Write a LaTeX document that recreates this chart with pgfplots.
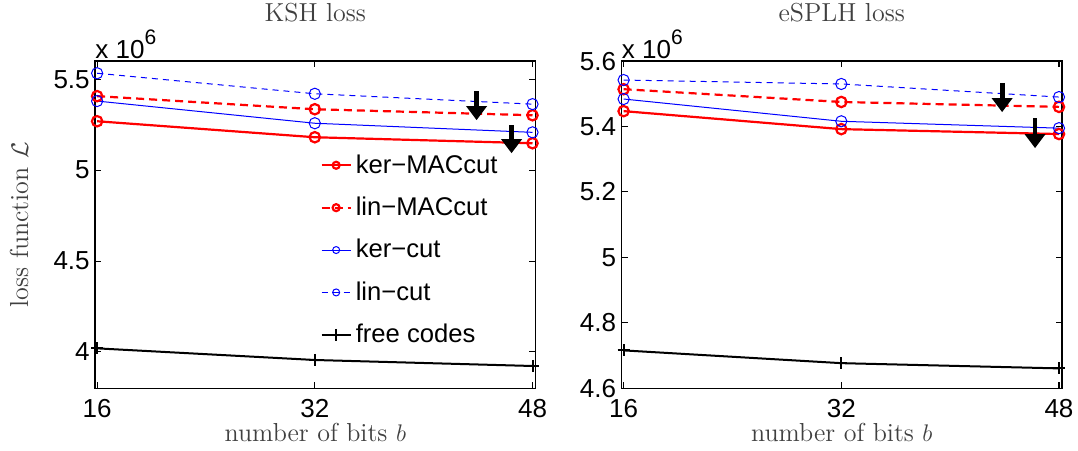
\documentclass[border=0pt]{standalone}
\usepackage{fontspec}
\setsansfont{Liberation Sans}
\usepackage{pgfplots}
\usepackage{pgfplotstable}
\pgfplotsset{compat=1.18}
\usetikzlibrary{arrows.meta}

\newcommand\tickfont{\sffamily\fontsize{13}{15}\selectfont}
\newcommand\labfont{\rmfamily\fontsize{13}{15}\selectfont}

% loss values, in units of 10^6
\pgfplotstableread{
b  kermac linmac kercut lincut free
16 5.269  5.407  5.380  5.533  4.020
32 5.181  5.335  5.258  5.420  3.956
48 5.148  5.302  5.208  5.363  3.923
}\ksh
\pgfplotstableread{
b  kermac linmac kercut lincut free
16 5.447  5.514  5.484  5.542  4.716
32 5.392  5.475  5.416  5.530  4.677
48 5.377  5.460  5.395  5.490  4.661
}\esplh
% annotation arrows (start point, drop)
\pgfplotstableread{
x     y     v
43.89 5.434 -0.159
46.46 5.247 -0.154
}\ksharr
\pgfplotstableread{
x     y     v
43.82 5.533 -0.089
46.24 5.426 -0.092
}\esplharr

\pgfplotsset{
  lossax/.style={
    scale only axis, width=220pt, height=163.5pt,
    xmin=15.85, xmax=48.22, xtick={16,32,48},
    tick align=inside, major tick length=3pt,
    axis line style={line width=0.7pt}, every tick/.style={black, line width=0.5pt},
    clip=false,
    ticklabel style={font=\tickfont},
    /pgf/number format/assume math mode=true,
    yticklabel style={anchor=east, inner sep=0pt, xshift=-2.5pt},
    xticklabel style={anchor=north, inner sep=0pt, yshift=-5.5pt},
    title style={at={(axis description cs:0.5,1)}, anchor=base, yshift=14pt, font=\labfont, text=black!75},
    xlabel style={at={(axis description cs:0.5,0)}, anchor=base, yshift=-26.5pt, font=\labfont, text=black!75},
    ylabel style={at={(axis description cs:-0.152,0.5)}, anchor=base, font=\labfont, text=black!75},
    xlabel={number of bits $b$},
    legend image code/.code={
      \draw[mark repeat=2, mark phase=2, ##1] plot coordinates {(0pt,0pt) (7.25pt,0pt) (14.5pt,0pt)};
    },
  },
  kermac/.style={red, line width=1.1pt, mark=o, mark size=2.6pt, mark options={solid}, legend image post style={mark size=1.75pt}},
  linmac/.style={red, line width=1.1pt, dash pattern=on 4pt off 2.5pt, mark=o, mark size=2.6pt, mark options={solid}, legend image post style={mark size=1.75pt}},
  kercut/.style={blue, line width=0.5pt, mark=o, mark size=2.8pt, mark options={solid}, legend image post style={mark size=1.75pt}},
  lincut/.style={blue, line width=0.5pt, dash pattern=on 3pt off 2.5pt, mark=o, mark size=2.8pt, mark options={solid}, legend image post style={mark size=1.75pt}},
  freec/.style={black, line width=1pt, mark=+, mark size=3pt, mark options={solid}},
  downarr/.style={black, line width=2.4pt, -{Triangle[width=10pt,length=7pt]}, quiver={u=0, v=\thisrow{v}}, forget plot},
}

\begin{document}
\begin{tikzpicture}
\begin{axis}[lossax, name=ksh,
  ymin=3.8, ymax=5.6, ytick={4,4.5,5,5.5},
  title={KSH loss}, ylabel={loss function $\mathcal{L}$},
  legend style={at={(axis description cs:0.511,0.728)}, anchor=north west, draw=none, fill=none,
    inner sep=0pt, row sep=6.4pt, font=\sffamily\fontsize{12.8}{15}\selectfont,
    /tikz/every odd column/.append style={column sep=0pt}},
  legend cell align=left,
]
\addplot[kermac] table[x=b, y=kermac] {\ksh};
\addplot[linmac] table[x=b, y=linmac] {\ksh};
\addplot[kercut] table[x=b, y=kercut] {\ksh};
\addplot[lincut] table[x=b, y=lincut] {\ksh};
\addplot[freec]  table[x=b, y=free] {\ksh};
\addplot[downarr] table[x=x, y=y] {\ksharr};
\legend{ker−MACcut, lin−MACcut, ker−cut, lin−cut, free codes}
\node[anchor=base west, inner sep=0pt, yshift=1.5pt, font=\tickfont] at (rel axis cs:0,1)
  {x 10\raisebox{7pt}{\fontsize{10.5}{12}\selectfont 6}};
\end{axis}

\begin{axis}[lossax, name=esplh, at={(ksh.south east)}, anchor=south west, xshift=43pt,
  ymin=4.6, ymax=5.6, ytick={4.6,4.8,5,5.2,5.4,5.6},
  title={eSPLH loss},
]
\addplot[kermac] table[x=b, y=kermac] {\esplh};
\addplot[linmac] table[x=b, y=linmac] {\esplh};
\addplot[kercut] table[x=b, y=kercut] {\esplh};
\addplot[lincut] table[x=b, y=lincut] {\esplh};
\addplot[freec]  table[x=b, y=free] {\esplh};
\addplot[downarr] table[x=x, y=y] {\esplharr};
\node[anchor=base west, inner sep=0pt, yshift=1.5pt, font=\tickfont] at (rel axis cs:0,1)
  {x 10\raisebox{7pt}{\fontsize{10.5}{12}\selectfont 6}};
\end{axis}

\pgfresetboundingbox
\useasboundingbox ([shift={(-47.5pt,-31pt)}]ksh.south west) rectangle ([shift={(8pt,30.5pt)}]esplh.north east);
\end{tikzpicture}
\end{document}
